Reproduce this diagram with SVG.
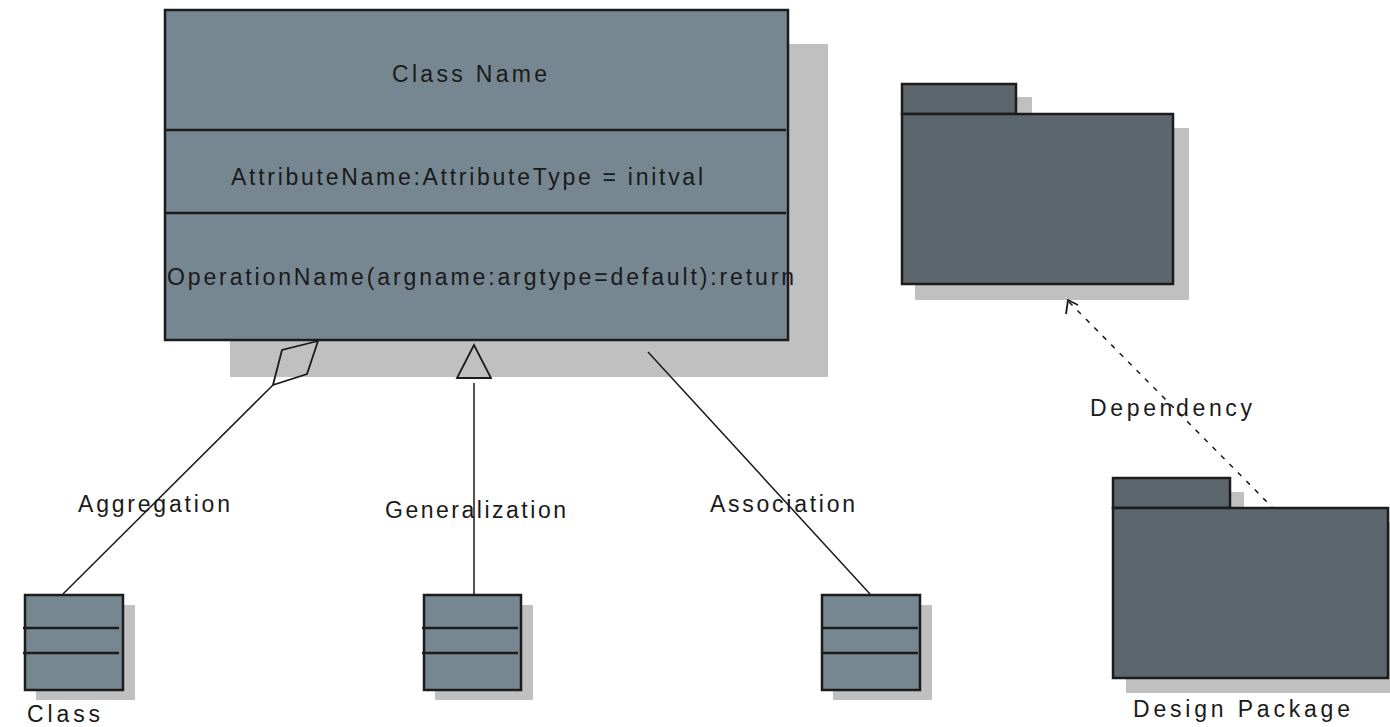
<svg xmlns="http://www.w3.org/2000/svg" width="1390" height="727" viewBox="0 0 1390 727">
  <style>
    .shadow { fill: #c0c0c0; }
    .cls { fill: #778791; stroke: #1c1c1c; stroke-width: 2.5; }
    .pkg { fill: #5c666d; stroke: #1c1c1c; stroke-width: 2.5; }
    .div { stroke: #1c1c1c; stroke-width: 2.5; }
    .lbl { font-family: "Liberation Sans", Arial, sans-serif; font-size: 23px; fill: #1a1a1a; }
    .edge { stroke: #1a1a1a; stroke-width: 1.5; fill: none; }
    .head { stroke: #1a1a1a; stroke-width: 1.8; fill: none; }
  </style>

  <!-- Main class with three compartments -->
  <g id="main-class">
    <rect class="shadow" x="230" y="44" width="598" height="333"/>
    <rect class="cls" x="165" y="10" width="623" height="330"/>
    <line class="div" x1="165" y1="130" x2="786" y2="130"/>
    <line class="div" x1="165" y1="213" x2="786" y2="213"/>
    <text class="lbl" x="392" y="82" textLength="155" lengthAdjust="spacing">Class Name</text>
    <text class="lbl" x="231" y="185" textLength="472" lengthAdjust="spacing">AttributeName:AttributeType = initval</text>
    <text class="lbl" x="167" y="285" textLength="627" lengthAdjust="spacing">OperationName(argname:argtype=default):return</text>
  </g>

  <!-- Small classes -->
  <g id="class-aggregate">
    <rect class="shadow" x="36" y="605" width="99" height="95"/>
    <rect class="cls" x="25" y="595" width="98" height="95"/>
    <line class="div" x1="23" y1="628" x2="119" y2="628"/>
    <line class="div" x1="23" y1="653" x2="119" y2="653"/>
    <text class="lbl" x="27" y="722" textLength="73" lengthAdjust="spacing">Class</text>
  </g>
  <g id="class-sub">
    <rect class="shadow" x="435" y="605" width="98" height="95"/>
    <rect class="cls" x="424" y="595" width="97" height="95"/>
    <line class="div" x1="422" y1="628" x2="518" y2="628"/>
    <line class="div" x1="422" y1="653" x2="518" y2="653"/>
  </g>
  <g id="class-assoc">
    <rect class="shadow" x="833" y="605" width="99" height="95"/>
    <rect class="cls" x="822" y="595" width="98" height="95"/>
    <line class="div" x1="822" y1="628" x2="918" y2="628"/>
    <line class="div" x1="822" y1="653" x2="918" y2="653"/>
  </g>

  <!-- Packages -->
  <g id="package-top">
    <rect class="shadow" x="1016" y="97" width="16" height="20"/>
    <rect class="shadow" x="915" y="128" width="274" height="172"/>
    <rect class="pkg" x="902" y="84" width="114" height="30"/>
    <rect class="pkg" x="902" y="114" width="271" height="170"/>
  </g>
  <g id="package-design">
    <rect class="shadow" x="1230" y="492" width="14" height="20"/>
    <rect class="shadow" x="1126" y="522" width="264" height="171"/>
    <rect class="pkg" x="1113" y="478" width="117" height="30"/>
    <rect class="pkg" x="1113" y="508" width="275" height="170"/>
    <text class="lbl" x="1133" y="717" textLength="217" lengthAdjust="spacing">Design Package</text>
  </g>

  <!-- Connectors -->
  <g id="connectors">
    <!-- aggregation: hollow diamond at the whole -->
    <polygon class="head" points="318,341 282,350 273,385 307,374"/>
    <line class="edge" x1="273" y1="385" x2="63" y2="594"/>
    <text class="lbl" x="78" y="512" textLength="152" lengthAdjust="spacing">Aggregation</text>

    <!-- generalization: hollow triangle at the parent -->
    <polygon class="head" points="474,345 457,378 491,378"/>
    <line class="edge" x1="474" y1="383" x2="474" y2="595" stroke-width="2"/>
    <text class="lbl" x="385" y="518" textLength="181" lengthAdjust="spacing">Generalization</text>

    <!-- association -->
    <line class="edge" x1="648" y1="352" x2="870" y2="594"/>
    <text class="lbl" x="710" y="512" textLength="145" lengthAdjust="spacing">Association</text>

    <!-- dependency: dashed with open arrowhead -->
    <line class="edge" x1="1069" y1="302" x2="1272" y2="507" stroke-dasharray="5,7"/>
    <polyline class="head" points="1066,314 1068,300 1078,305"/>
    <text class="lbl" x="1090" y="416" textLength="162" lengthAdjust="spacing">Dependency</text>
  </g>
</svg>
